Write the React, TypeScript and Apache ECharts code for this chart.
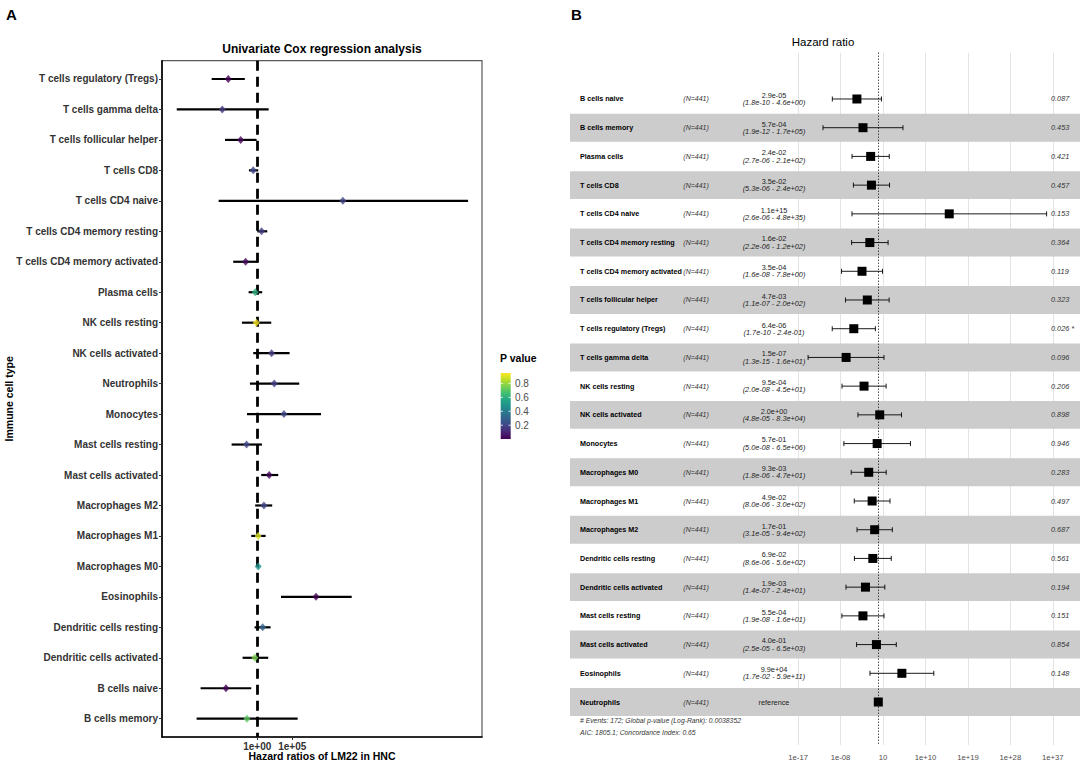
import React, { useEffect, useRef } from "react";
import * as echarts from "echarts";

const FONT = "'Liberation Sans', Arial, Helvetica, sans-serif";

// ---------------- Panel A : univariate Cox (top to bottom) ----------------
const aCells = [
  "T cells regulatory (Tregs)",
  "T cells gamma delta",
  "T cells follicular helper",
  "T cells CD8",
  "T cells CD4 naive",
  "T cells CD4 memory resting",
  "T cells CD4 memory activated",
  "Plasma cells",
  "NK cells resting",
  "NK cells activated",
  "Neutrophils",
  "Monocytes",
  "Mast cells resting",
  "Mast cells activated",
  "Macrophages M2",
  "Macrophages M1",
  "Macrophages M0",
  "Eosinophils",
  "Dendritic cells resting",
  "Dendritic cells activated",
  "B cells naive",
  "B cells memory",
];
const aHR = [7.2e-5, 1.0e-5, 4.3e-3, 0.27, 1.7e12, 4.2, 2.2e-2, 0.52, 0.72, 112, 270, 6.5e3, 3.0e-2, 51, 9.1, 1.38, 1.38, 2.5e8, 5.9, 0.47, 3.4e-5, 3.4e-2];
const aLow = [3.1e-7, 3.2e-12, 2.5e-5, 6.5e-2, 3.1e-6, 1.0, 3.7e-4, 5.9e-2, 6.5e-3, 0.27, 9.1e-2, 3.4e-2, 2.2e-4, 3.7, 0.51, 0.14, 1.05, 2.5e3, 0.42, 8.1e-3, 8.1e-9, 2.2e-9];
const aHigh = [1.7e-2, 43, 0.81, 1.4, 1.3e30, 27, 1.26, 5.1, 100, 4.2e4, 1.0e6, 1.3e9, 4.7, 1.0e3, 138, 16, 1.8, 3.1e13, 81, 37, 0.14, 5.9e5];
const aP = [0.004, 0.16, 0.02, 0.2, 0.19, 0.18, 0.03, 0.6, 0.95, 0.17, 0.18, 0.2, 0.2, 0.01, 0.21, 0.9, 0.48, 0.003, 0.3, 0.76, 0.008, 0.71];
const aTickExp = [0, 5];
const aXTitle = "Hazard ratios of LM22 in HNC";
const pLegendTicks = [0.2, 0.4, 0.6, 0.8];
const pMin = 0.002;
const pMax = 0.95;

// ---------------- Panel B : multivariate hazard ratio (top to bottom) ----------------
const bCells = [
  "B cells naive",
  "B cells memory",
  "Plasma cells",
  "T cells CD8",
  "T cells CD4 naive",
  "T cells CD4 memory resting",
  "T cells CD4 memory activated",
  "T cells follicular helper",
  "T cells regulatory (Tregs)",
  "T cells gamma delta",
  "NK cells resting",
  "NK cells activated",
  "Monocytes",
  "Macrophages M0",
  "Macrophages M1",
  "Macrophages M2",
  "Dendritic cells resting",
  "Dendritic cells activated",
  "Mast cells resting",
  "Mast cells activated",
  "Eosinophils",
  "Neutrophils",
];
const bHR = [2.9e-5, 5.7e-4, 2.4e-2, 3.5e-2, 1.1e15, 1.6e-2, 3.5e-4, 4.7e-3, 6.4e-6, 1.5e-7, 9.5e-4, 2.0, 5.7e-1, 9.3e-3, 4.9e-2, 1.7e-1, 6.9e-2, 1.9e-3, 5.5e-4, 4.0e-1, 9.9e4, 1];
const bLow = [1.8e-10, 1.9e-12, 2.7e-6, 5.3e-6, 2.6e-6, 2.2e-6, 1.6e-8, 1.1e-7, 1.7e-10, 1.3e-15, 2.0e-8, 4.8e-5, 5.0e-8, 1.8e-6, 8.0e-6, 3.1e-5, 8.6e-6, 1.4e-7, 1.9e-8, 2.5e-5, 1.7e-2, null];
const bHigh = [4.6, 1.7e5, 2.1e2, 2.4e2, 4.8e35, 1.2e2, 7.8, 2.0e2, 2.4e-1, 1.6e1, 4.5e1, 8.3e4, 6.5e6, 4.7e1, 3.0e2, 9.4e2, 5.6e2, 2.4e1, 1.6e1, 6.5e3, 5.9e11, null];
const bP = [0.087, 0.453, 0.421, 0.457, 0.153, 0.364, 0.119, 0.323, 0.026, 0.096, 0.206, 0.898, 0.946, 0.283, 0.497, 0.687, 0.561, 0.194, 0.151, 0.854, 0.148, null];
const bN = 441;
const bTickExp = [-17, -8, 1, 10, 19, 28, 37];
const bFootnotes = [
  "# Events: 172; Global p-value (Log-Rank): 0.0038352",
  "AIC: 1805.1; Concordance Index: 0.65",
];

const viridis = ["#440154", "#482475", "#414487", "#355f8d", "#2a788e", "#21918c", "#22a884", "#44bf70", "#7ad151", "#bddf26", "#fde725"];

const lg = (v: number) => Math.log10(v);
const fmtE = (v: number) => v.toExponential(1).replace(/e([+-])(\d)$/, "e$10$2");
const pad2 = (n: number) => (n < 10 ? "0" + n : String(n));
const fmtTickA = (v: number) => "1e" + (v < 0 ? "-" : "+") + pad2(Math.abs(v));
const fmtTickB = (v: number) => (v === 1 ? "10" : "1e" + (v < 0 ? "-" : "+") + pad2(Math.abs(v)));

function txt(x: number, y: number, text: string, o: any = {}) {
  return {
    type: "text",
    x,
    y,
    silent: true,
    style: {
      text,
      fontFamily: FONT,
      fontSize: o.size || 10,
      fontWeight: o.weight || "normal",
      fontStyle: o.italic ? "italic" : "normal",
      fill: o.color || "#000",
      align: o.align || "left",
      verticalAlign: o.va || "middle",
      textAlign: o.align || "left",
      textVerticalAlign: o.va || "middle",
    },
  };
}

function buildOption() {
  const errA = aCells.map((_, i) => [lg(aLow[i]), lg(aHigh[i]), i]);
  const ptsA = aCells.map((_, i) => [lg(aHR[i]), i, aP[i]]);
  const rowIdxA = aCells.map((_, i) => i);

  const bandRows = bCells.map((_, i) => [0, i]).filter((d) => d[1] % 2 === 1);
  const tableRows = bCells.map((_, i) => [0, i]);
  const forestRows = bCells.map((_, i) => [lg(bHR[i]), i]);

  // colour bar geometry (legend)
  const cbX = 500.7, cbY = 373, cbW = 10, cbH = 66;
  const pToY = (p: number) => cbY + cbH - ((p - pMin) / (pMax - pMin)) * cbH;
  const gradStops = viridis.map((_, k) => ({ offset: k / (viridis.length - 1), color: viridis[viridis.length - 1 - k] }));

  const graphic: any[] = [
    txt(6, 14, "A", { size: 15, weight: "bold" }),
    txt(571, 14, "B", { size: 15, weight: "bold" }),
    txt(322, 49, "Univariate Cox regression analysis", { size: 12, weight: "bold", align: "center" }),
    txt(322, 756, aXTitle, { size: 10.5, weight: "bold", align: "center" }),
    txt(823, 42, "Hazard ratio", { size: 11.5, align: "center" }),
    txt(500, 358, "P value", { size: 10.5, weight: "bold" }),
    {
      type: "rect",
      silent: true,
      shape: { x: cbX, y: cbY, width: cbW, height: cbH },
      style: { fill: new echarts.graphic.LinearGradient(0, 0, 0, 1, gradStops) },
    },
  ];
  pLegendTicks.forEach((p) => {
    const y = pToY(p);
    graphic.push({ type: "line", silent: true, shape: { x1: cbX, y1: y, x2: cbX + 2.2, y2: y }, style: { stroke: "#fff", lineWidth: 0.8 } });
    graphic.push({ type: "line", silent: true, shape: { x1: cbX + cbW - 2.2, y1: y, x2: cbX + cbW, y2: y }, style: { stroke: "#fff", lineWidth: 0.8 } });
    graphic.push(txt(515, y, p.toFixed(1), { size: 10, color: "#4d4d4d" }));
  });
  bFootnotes.forEach((t, k) => graphic.push(txt(580, 720 + k * 12.7, t, { size: 6.8, italic: true, color: "#333" })));

  return {
    animation: false,
    textStyle: { fontFamily: FONT },
    grid: [
      {
        left: 162, top: 60.7, width: 320, height: 676.3,
        show: true, borderColor: "#5a5a5a", borderWidth: 1.2, backgroundColor: "#fff",
        containLabel: false, outerBoundsMode: "none",
      },
      { left: 570, top: 52.7, width: 510, height: 692.3, show: false, containLabel: false, outerBoundsMode: "none" },
    ],
    xAxis: [
      {
        gridIndex: 0,
        type: "value",
        min: -13.6,
        max: 32.1,
        splitLine: { show: false },
        axisLine: { show: true, onZero: false, lineStyle: { color: "#000", width: 1.6 } },
        axisTick: { show: true, customValues: aTickExp, length: 3, lineStyle: { color: "#333" } },
        axisLabel: { customValues: aTickExp, formatter: fmtTickA, fontSize: 10, fontWeight: "bold", color: "#333", margin: 4 },
      },
      {
        gridIndex: 1,
        type: "value",
        min: -65.36,
        max: 42.76,
        splitLine: { show: false },
        axisLine: { show: false },
        axisTick: { show: false, customValues: bTickExp },
        axisLabel: { customValues: bTickExp, formatter: fmtTickB, fontSize: 7.7, color: "#4d4d4d", margin: 8 },
      },
    ],
    yAxis: [
      {
        gridIndex: 0,
        type: "value",
        inverse: true,
        min: -0.6,
        max: 21.6,
        splitLine: { show: false },
        axisLine: { show: true, onZero: false, lineStyle: { color: "#000", width: 1.6 } },
        axisTick: { show: true, customValues: rowIdxA, length: 3, lineStyle: { color: "#333" } },
        axisLabel: {
          customValues: rowIdxA,
          formatter: (v: number) => aCells[Math.round(v)],
          fontSize: 10,
          fontWeight: "bold",
          color: "#333",
          margin: 4,
        },
        name: "Immune cell type",
        nameLocation: "middle",
        nameGap: 148,
        nameMoveOverlap: false,
        nameTextStyle: { fontSize: 10.5, fontWeight: "bold", color: "#000" },
      },
      {
        gridIndex: 1,
        type: "value",
        inverse: true,
        min: -1.612,
        max: 22.497,
        show: false,
      },
    ],
    visualMap: {
      type: "continuous",
      show: false,
      min: pMin,
      max: pMax,
      dimension: 2,
      seriesIndex: 1,
      inRange: { color: viridis },
    },
    series: [
      {
        type: "custom",
        xAxisIndex: 0,
        yAxisIndex: 0,
        z: 2,
        data: errA,
        renderItem: (params: any, api: any) => {
          const a = api.coord([api.value(0), api.value(2)]);
          const b = api.coord([api.value(1), api.value(2)]);
          return {
            type: "line",
            shape: { x1: a[0], y1: a[1], x2: b[0], y2: b[1] },
            style: { stroke: "#000", lineWidth: 2.2 },
          };
        },
        markLine: {
          silent: true,
          symbol: "none",
          z: 3,
          label: { show: false },
          lineStyle: { color: "#000", width: 2.8, type: [10, 6] },
          data: [{ xAxis: 0 }],
        },
      },
      {
        type: "scatter",
        xAxisIndex: 0,
        yAxisIndex: 0,
        z: 4,
        symbol: "diamond",
        symbolSize: [7, 8],
        data: ptsA,
      },
      {
        type: "custom",
        xAxisIndex: 1,
        yAxisIndex: 1,
        z: 3,
        data: bandRows,
        renderItem: (params: any, api: any) => {
          const c = api.coord([0, api.value(1)]);
          const h = api.size([0, 1])[1];
          const cs = params.coordSys;
          return {
            type: "rect",
            shape: { x: cs.x, y: c[1] - h / 2 + 0.4, width: cs.width, height: h - 0.8 },
            style: { fill: "#cccccc" },
          };
        },
        markLine: {
          silent: true,
          symbol: "none",
          z: 1,
          label: { show: false },
          lineStyle: { color: "#e3e3e3", width: 1, type: "solid" },
          data: bTickExp.map((v) => ({ xAxis: v })),
        },
      },
      {
        type: "custom",
        xAxisIndex: 1,
        yAxisIndex: 1,
        z: 6,
        data: tableRows,
        renderItem: (params: any, api: any) => {
          const i = params.dataIndex;
          const y = api.coord([0, api.value(1)])[1];
          const x0 = params.coordSys.x;
          const children: any[] = [
            txt(x0 + 10, y, bCells[i], { size: 7.2, weight: "bold" }),
            txt(x0 + 113.3, y, "(N=" + bN + ")", { size: 7, italic: true, color: "#333" }),
          ];
          if (bLow[i] != null && bHigh[i] != null) {
            children.push(txt(x0 + 204, y - 3.6, fmtE(bHR[i]), { size: 7.3, align: "center", color: "#222" }));
            children.push(
              txt(x0 + 204, y + 3.7, "(" + fmtE(bLow[i] as number) + " - " + fmtE(bHigh[i] as number) + ")", {
                size: 7.3,
                italic: true,
                align: "center",
                color: "#222",
              })
            );
          } else {
            children.push(txt(x0 + 204, y, "reference", { size: 7.3, align: "center", color: "#222" }));
          }
          const p = bP[i];
          if (p != null) {
            children.push(txt(x0 + 481, y, p.toFixed(3) + (p < 0.05 ? " *" : ""), { size: 7.3, italic: true, color: "#333" }));
          }
          return { type: "group", children };
        },
      },
      {
        type: "custom",
        xAxisIndex: 1,
        yAxisIndex: 1,
        z: 7,
        data: forestRows,
        renderItem: (params: any, api: any) => {
          const i = params.dataIndex;
          const c = api.coord([api.value(0), api.value(1)]);
          const children: any[] = [];
          const lo = bLow[i];
          const hi = bHigh[i];
          if (lo != null && hi != null) {
            const l = api.coord([lg(lo), api.value(1)]);
            const h = api.coord([lg(hi), api.value(1)]);
            children.push({ type: "line", shape: { x1: l[0], y1: c[1], x2: h[0], y2: c[1] }, style: { stroke: "#000", lineWidth: 0.9 } });
            children.push({ type: "line", shape: { x1: l[0], y1: c[1] - 2.5, x2: l[0], y2: c[1] + 2.5 }, style: { stroke: "#000", lineWidth: 0.9 } });
            children.push({ type: "line", shape: { x1: h[0], y1: c[1] - 2.5, x2: h[0], y2: c[1] + 2.5 }, style: { stroke: "#000", lineWidth: 0.9 } });
          }
          children.push({ type: "rect", shape: { x: c[0] - 4.5, y: c[1] - 4.5, width: 9, height: 9 }, style: { fill: "#000" } });
          return { type: "group", children };
        },
        markLine: {
          silent: true,
          symbol: "none",
          z: 5,
          label: { show: false },
          lineStyle: { color: "#000", width: 1, type: [1, 2] },
          data: [{ xAxis: 0 }],
        },
      },
    ],
    graphic,
  };
}

export default function App() {
  const ref = useRef<HTMLDivElement>(null);
  useEffect(() => {
    const chart = echarts.init(ref.current as HTMLDivElement, null, { renderer: "svg" });
    chart.setOption(buildOption() as any);
    return () => chart.dispose();
  }, []);
  return (
    <div
      ref={ref}
      style={{ position: "fixed", left: 0, top: 0, width: 1084, height: 764, background: "#fff" }}
    />
  );
}
